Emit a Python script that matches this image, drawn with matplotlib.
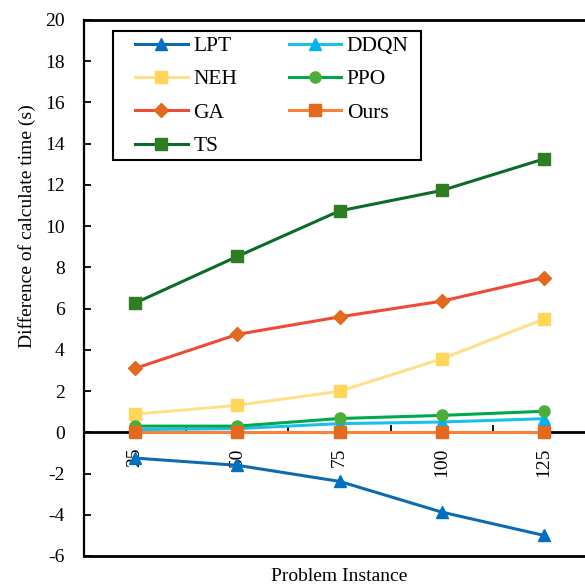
import matplotlib
matplotlib.use("Agg")
import matplotlib.pyplot as plt
from matplotlib.ticker import FixedLocator, NullFormatter
from matplotlib.patches import Rectangle

categories = ["25", "50", "75", "100", "125"]
lpt = [-1.25, -1.6, -2.38, -3.87, -5.0]
ddqn = [0.13, 0.18, 0.42, 0.5, 0.66]
neh = [0.88, 1.31, 1.99, 3.56, 5.49]
ppo = [0.3, 0.3, 0.67, 0.82, 1.02]
ga = [3.1, 4.75, 5.6, 6.36, 7.5]
ours = [0.0, 0.0, 0.0, 0.0, 0.0]
ts = [6.27, 8.53, 10.74, 11.73, 13.26]

series = [
    ("LPT", lpt, "#0E6AB0", "#0070C0", "^", 8.5),
    ("DDQN", ddqn, "#1BC0EA", "#00B4F0", "^", 8.5),
    ("NEH", neh, "#FFE08A", "#FFD65A", "s", 8),
    ("PPO", ppo, "#00A84F", "#4BAE3A", "o", 8),
    ("GA", ga, "#EE4A38", "#E2691E", "D", 7),
    ("Ours", ours, "#F5843A", "#E2691E", "s", 8),
    ("TS", ts, "#0B6B2B", "#2E7D22", "s", 8),
]

plt.rcParams["font.family"] = ["Liberation Serif", "DejaVu Serif"]

fig = plt.figure(figsize=(5.85, 5.85), dpi=100)
ax = fig.add_axes([84 / 585, 1 - 556 / 585, 511 / 585, 536 / 585])

x = list(range(len(categories)))
handles = {}
for name, vals, lc, mc, mk, ms in series:
    h, = ax.plot(x, vals, color=lc, lw=2.2, marker=mk, markersize=ms,
                 markerfacecolor=mc, markeredgecolor=mc, label=name, zorder=3)
    handles[name] = h

ax.set_xlim(-0.5, 4.5)
ax.set_ylim(-6, 20)
ax.set_yticks(range(-6, 21, 2))
ax.set_yticklabels([str(v) for v in range(-6, 21, 2)])
ax.tick_params(axis="y", direction="in", length=5, width=1.3, pad=14, labelsize=14)

ax.spines["bottom"].set_position(("data", 0))
ax.spines["bottom"].set_linewidth(2)
ax.spines["bottom"].set_zorder(2)
ax.spines["left"].set_linewidth(1.6)
ax.spines["top"].set_linewidth(2)
ax.spines["right"].set_visible(False)
ax.axhline(-6, color="black", lw=2, clip_on=False)

ax.xaxis.set_major_locator(FixedLocator(x))
ax.set_xticklabels(categories, rotation=90, fontsize=14)
ax.tick_params(axis="x", which="major", length=0, pad=11)
ax.xaxis.set_minor_locator(FixedLocator([0.5, 1.5, 2.5, 3.5]))
ax.xaxis.set_minor_formatter(NullFormatter())
ax.tick_params(axis="x", which="minor", direction="in", length=5, width=1.3)

ax.set_xlabel("Problem Instance", fontsize=14)
ax.xaxis.set_label_coords(0.5, -0.022)

fig.text(27 / 585, 1 - 226 / 585, "Difference of calculate time (s)",
         rotation=90, ha="center", va="center", fontsize=14)

# legend frame
frame = Rectangle((113 / 585, 1 - 160 / 585), 308 / 585, 129 / 585,
                  transform=fig.transFigure, facecolor="white",
                  edgecolor="black", lw=1.5, zorder=4)
ax.add_artist(frame)

order = ["LPT", "NEH", "GA", "TS", "DDQN", "PPO", "Ours"]
leg = ax.legend([handles[n] for n in order], order, ncol=2, loc="upper left",
                bbox_to_anchor=(135 / 585, 1 - 36 / 585),
                bbox_transform=fig.transFigure,
                fontsize=15.5, frameon=False, handlelength=2.45,
                columnspacing=2.4, labelspacing=0.62, borderpad=0,
                borderaxespad=0, handletextpad=0.25)
leg.set_zorder(5)

fig.savefig("out.png", dpi=100)
